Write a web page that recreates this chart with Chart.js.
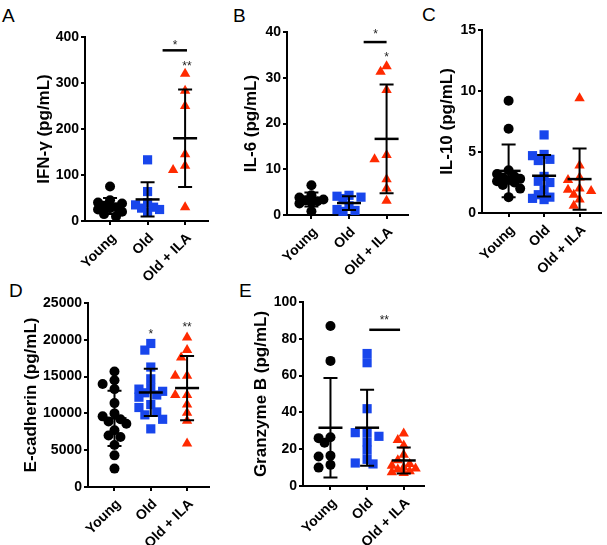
<!DOCTYPE html>
<html>
<head>
<meta charset="utf-8">
<script src="https://cdn.jsdelivr.net/npm/chart.js@4.4.1/dist/chart.umd.min.js"></script>
<style>
  body { margin: 0; background: #fff; width: 607px; height: 545px; position: relative; overflow: hidden;
         font-family: Arial, "Liberation Sans", sans-serif; }
  canvas { position: absolute; }
  .letter { position: absolute; font-size: 19px; line-height: 19px; color: #000; }
</style>
</head>
<body>
<div class="letter" style="left:2px;top:6px">A</div>
<div class="letter" style="left:233px;top:6px">B</div>
<div class="letter" style="left:422px;top:5px">C</div>
<div class="letter" style="left:9px;top:281px">D</div>
<div class="letter" style="left:239px;top:281px">E</div>

<canvas id="pD" width="215" height="275" style="left:0;top:270px"></canvas>
<canvas id="pE" width="215" height="275" style="left:215px;top:270px"></canvas>
<canvas id="pA" width="215" height="290" style="left:0;top:0"></canvas>
<canvas id="pB" width="200" height="290" style="left:215px;top:0"></canvas>
<canvas id="pC" width="192" height="290" style="left:415px;top:0"></canvas>

<script>
  "use strict";

  const groups = ["Young", "Old", "Old + ILA"];

  // A: IFN-gamma (pg/mL)
  const ifnYoung = [75, 45, 40, 38, 33, 30, 28, 25, 20, 15, 10];
  const ifnOld = [133, 64, 40, 35, 30, 28, 25, 20];
  const ifnIla = [320, 283, 250, 145, 120, 111, 30];
  const ifnTicks = [0, 100, 200, 300, 400];

  // B: IL-6 (pg/mL)
  const il6Young = [6.5, 4.3, 3.8, 3.4, 3.2, 3.0, 2.8, 2.5, 0.8];
  const il6Old = [4.3, 4.1, 3.9, 3.6, 2.0, 1.2, 1.0, 0.8];
  const il6Ila = [32.5, 31.3, 27.3, 13.1, 12.2, 7.8, 5.8, 3.1];
  const il6Ticks = [0, 10, 20, 30, 40];

  // C: IL-10 (pg/mL)
  const il10Young = [9.2, 6.9, 3.5, 3.2, 3.0, 2.9, 2.8, 2.7, 2.6, 2.5, 2.3, 2.0, 1.3];
  const il10Old = [6.4, 4.8, 4.7, 4.4, 4.3, 3.0, 2.6, 2.5, 1.9, 1.5, 1.3, 1.2, 1.1];
  const il10Ila = [9.4, 3.9, 2.9, 2.7, 2.0, 1.9, 1.8, 1.5, 1.1, 0.6];
  const il10Ticks = [0, 5, 10, 15];

  // D: E-cadherin (pg/mL)
  const ecadYoung = [15700, 14500, 14000, 13300, 11400, 10000, 9600, 9200, 8900, 8600, 7700, 7000, 6800, 5700, 4300, 2500];
  const ecadOld = [19500, 18600, 16300, 14700, 13500, 13300, 13000, 12800, 12500, 12200, 11200, 10800, 10200, 9800, 9200, 7900];
  const ecadIla = [20300, 18600, 17600, 15100, 15100, 12500, 12500, 11200, 10100, 9000, 5900];
  const ecadTicks = [0, 5000, 10000, 15000, 20000, 25000];

  // E: Granzyme B (pg/mL)
  const gzmbYoung = [87, 68, 26.5, 26, 23.5, 16.5, 16, 11.5, 10];
  const gzmbOld = [72, 67, 42, 29, 29, 27, 24, 19.5, 14.5, 12.5, 12];
  const gzmbIla = [28.5, 25, 22, 17, 14, 12, 11, 10, 9.5, 9, 8, 7.5, 7];
  const gzmbTicks = [0, 20, 40, 60, 80, 100];

  // significance marks: [x1, x2, y] bars and [x, y, text] stars (category / value units)
  const ifnBars = [[1.4, 2.05, 371]];
  const ifnStars = [[1.73, 390, "*"], [2.05, 344, "**"]];
  const il6Bars = [[1.39, 2.0, 37.8]];
  const il6Stars = [[1.71, 40.2, "*"], [2.0, 35.3, "*"]];
  const ecadStars = [[1, 21150, "*"], [2, 22200, "**"]];
  const gzmbBars = [[1.06, 1.9, 84.9]];
  const gzmbStars = [[1.47, 92, "**"]];

  const FONT = "Arial, 'Liberation Sans', sans-serif";
  const styles = [
    { color: "#000000", pointStyle: "circle", radius: 5 },
    { color: "#1846ec", pointStyle: "rect", radius: 6.5 },
    { color: "#ff2a00", pointStyle: "triangle", radius: 6 },
  ];

  const panels = [
    { id: "pA", title: "IFN-\u03b3 (pg/mL)", titlePad: 34, series: [ifnYoung, ifnOld, ifnIla], ticks: ifnTicks,
      pad: { top: 37, right: 7 }, yW: 85, xH: 69, xMin: -0.667, xMax: 2.61, bars: ifnBars, stars: ifnStars },
    { id: "pB", title: "IL-6 (pg/mL)", titlePad: 26, series: [il6Young, il6Old, il6Ila], ticks: il6Ticks,
      pad: { top: 32, right: 7 }, yW: 72, xH: 75, xMin: -0.65, xMax: 2.57, bars: il6Bars, stars: il6Stars },
    { id: "pC", title: "IL-10 (pg/mL)", titlePad: 22, series: [il10Young, il10Old, il10Ila], ticks: il10Ticks,
      pad: { top: 30, right: 2 }, yW: 67, xH: 77, xMin: -0.75, xMax: 2.59, bars: [], stars: [] },
    { id: "pD", title: "E-cadherin (pg/mL)", titlePad: 21, series: [ecadYoung, ecadOld, ecadIla], ticks: ecadTicks,
      pad: { top: 33, right: 5 }, yW: 88, xH: 58, xMin: -0.73, xMax: 2.59, bars: [], stars: ecadStars },
    { id: "pE", title: "Granzyme B (pg/mL)", titlePad: 36, series: [gzmbYoung, gzmbOld, gzmbIla], ticks: gzmbTicks,
      pad: { top: 32, right: 5 }, yW: 88, xH: 59, xMin: -0.75, xMax: 2.54, bars: gzmbBars, stars: gzmbStars },
  ];

  function mean(a) { return a.reduce((s, v) => s + v, 0) / a.length; }
  function sd(a) {
    const m = mean(a);
    return Math.sqrt(a.reduce((s, v) => s + (v - m) * (v - m), 0) / (a.length - 1));
  }

  // beeswarm-ish horizontal spread so overlapping dots sit side by side
  function swarm(vals, pxPerVal, pxPerCat) {
    const order = vals.map((v, i) => i).sort((a, b) => vals[b] - vals[a]);
    const placed = [];
    const out = new Array(vals.length).fill(0);
    const step = 6, minD = 7.5;
    const cands = [0, -1, 1, -2, 2].map((k) => k * step);
    order.forEach((i) => {
      const py = vals[i] * pxPerVal;
      let best = 0, bestScore = -1;
      for (const dx of cands) {
        let dmin = Infinity;
        placed.forEach((p) => { dmin = Math.min(dmin, Math.hypot(p.x - dx, p.y - py)); });
        if (dmin >= minD) { best = dx; break; }
        if (dmin > bestScore) { bestScore = dmin; best = dx; }
      }
      placed.push({ x: best, y: py });
      out[i] = best / pxPerCat;
    });
    return out;
  }

  const meanSdPlugin = {
    id: "meanSd",
    afterDatasetsDraw(chart) {
      const { ctx, scales: { x, y } } = chart;
      ctx.save();
      ctx.strokeStyle = "#000";
      chart.data.datasets.forEach((ds, i) => {
        const vals = ds.data.map((p) => p.y);
        const m = mean(vals), s = sd(vals);
        const cx = x.getPixelForValue(i);
        const yt = y.getPixelForValue(m + s), yb = y.getPixelForValue(m - s), ym = y.getPixelForValue(m);
        ctx.lineWidth = 2;
        ctx.beginPath();
        ctx.moveTo(cx, yt); ctx.lineTo(cx, yb);
        ctx.moveTo(cx - 7, yt); ctx.lineTo(cx + 7, yt);
        ctx.moveTo(cx - 7, yb); ctx.lineTo(cx + 7, yb);
        ctx.stroke();
        ctx.lineWidth = 2.5;
        ctx.beginPath();
        ctx.moveTo(cx - 12, ym); ctx.lineTo(cx + 12, ym);
        ctx.stroke();
      });
      ctx.restore();
    },
  };

  function sigPlugin(p) {
    return {
      id: "sig",
      afterDraw(chart) {
        const { ctx, scales: { x, y } } = chart;
        ctx.save();
        ctx.strokeStyle = "#000";
        ctx.lineWidth = 2.5;
        p.bars.forEach(([x1, x2, v]) => {
          ctx.beginPath();
          ctx.moveTo(x.getPixelForValue(x1), y.getPixelForValue(v));
          ctx.lineTo(x.getPixelForValue(x2), y.getPixelForValue(v));
          ctx.stroke();
        });
        ctx.fillStyle = "#222";
        ctx.font = "12px " + FONT;
        ctx.textAlign = "center";
        ctx.textBaseline = "alphabetic";
        p.stars.forEach(([sx, v, t]) => {
          ctx.fillText(t, x.getPixelForValue(sx), y.getPixelForValue(v) + 7);
        });
        ctx.restore();
      },
    };
  }

  function axisGrid() {
    return { display: true, drawOnChartArea: false, drawTicks: true, tickLength: 4, color: "#000", lineWidth: 2 };
  }

  function buildPanel(p) {
    const canvas = document.getElementById(p.id);
    const yMax = p.ticks[p.ticks.length - 1];
    const plotH = canvas.height - p.pad.top - p.xH;
    const plotW = canvas.width - p.pad.right - p.yW;
    const pxPerVal = plotH / yMax;
    const pxPerCat = plotW / (p.xMax - p.xMin);

    const datasets = p.series.map((vals, gi) => {
      const off = swarm(vals, pxPerVal, pxPerCat);
      const st = styles[gi];
      return {
        label: groups[gi],
        data: vals.map((v, i) => ({ x: gi + off[i], y: v })),
        pointStyle: st.pointStyle,
        pointRadius: st.radius,
        pointBackgroundColor: st.color,
        pointBorderWidth: 0,
        clip: false,
      };
    });

    new Chart(canvas, {
      type: "scatter",
      data: { datasets },
      options: {
        responsive: false, animation: false, events: [], devicePixelRatio: 1,
        layout: { padding: { left: 0, top: p.pad.top, right: p.pad.right, bottom: 0 } },
        plugins: { legend: { display: false }, tooltip: { enabled: false } },
        scales: {
          x: {
            type: "linear", min: p.xMin, max: p.xMax,
            afterBuildTicks: (s) => { s.ticks = [0, 1, 2].map((v) => ({ value: v })); },
            ticks: { callback: (v) => groups[v], minRotation: 45, maxRotation: 45, autoSkip: false,
                     labelOffset: 4, color: "#000", padding: 5, font: { family: FONT, size: 14, weight: "bold" } },
            grid: axisGrid(),
            border: { display: true, color: "#000", width: 2 },
            afterFit: (s) => { s.height = p.xH; },
          },
          y: {
            min: 0, max: yMax,
            afterBuildTicks: (s) => { s.ticks = p.ticks.map((v) => ({ value: v })); },
            ticks: { callback: (v) => String(v), color: "#000", padding: 2,
                     font: { family: FONT, size: 14, weight: "bold" } },
            grid: axisGrid(),
            border: { display: true, color: "#000", width: 2 },
            title: { display: true, text: p.title, color: "#000", padding: { top: p.titlePad, bottom: 0 },
                     font: { family: FONT, size: 17, weight: "bold" } },
            afterFit: (s) => { s.width = p.yW; },
          },
        },
      },
      plugins: [meanSdPlugin, sigPlugin(p)],
    });
  }

  panels.forEach(buildPanel);
</script>
</body>
</html>
